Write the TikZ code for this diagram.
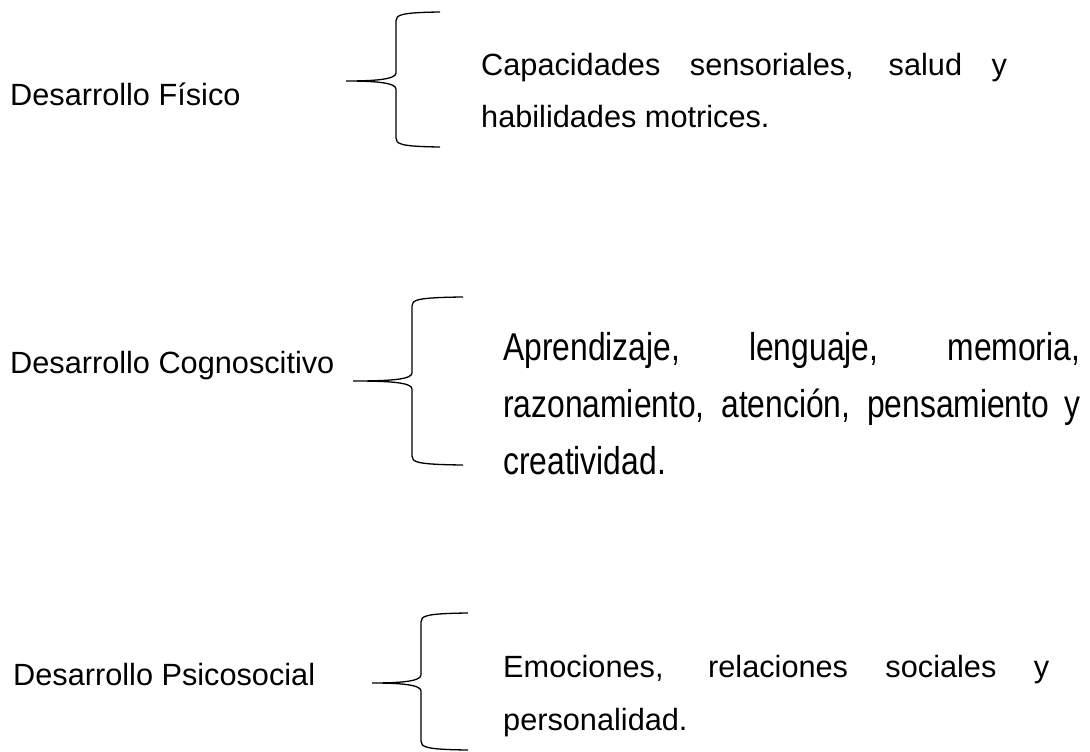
\documentclass[tikz,border=0pt]{standalone}
\usepackage{fontspec}
\setmainfont{Liberation Sans}
\newfontfamily\narrowfont{Liberation Sans}[FakeStretch=0.82]
\tikzset{
  lbl/.style={anchor=base west, inner sep=0pt, font=\fontsize{30.7}{53}\selectfont},
  para/.style={anchor=base west, inner sep=0pt},
  bracel/.style={line width=1.3pt, black}
}
\newcommand{\mybrace}[6]{% tipx tipy vx top bot endx
  \draw[bracel] (#6,#4) .. controls (#3+4,#4+0.5) and (#3,#4+3) .. (#3,#4+9)
     -- (#3,#2-8) .. controls (#3,#2-1.5) and (#3-22,#2) .. (#1,#2)
     .. controls (#3-22,#2) and (#3,#2+1.5) .. (#3,#2+8)
     -- (#3,#5-9) .. controls (#3,#5-3) and (#3+4,#5-0.5) .. (#6,#5);
}
\begin{document}
\begin{tikzpicture}[x=1pt,y=-1pt]
\useasboundingbox (0,0) rectangle (1090,752);
\fill[white] (0,0) rectangle (1090,752);

\node[lbl] (fis) at (10,105) {Desarrollo Físico};
\node[lbl] (cog) at (10,373) {Desarrollo Cognoscitivo};
\node[lbl] (psi) at (13,685) {Desarrollo Psicosocial};

\mybrace{346}{81}{396}{12}{147}{440}
\mybrace{353}{381}{412}{297}{465}{463}
\mybrace{372}{683}{421}{613}{750}{468}

\node[para] (tfis) at (481,75) {\parbox[t]{526pt}{\fontsize{30.7}{53}\selectfont\parindent=0pt
Capacidades sensoriales, salud y\linebreak habilidades motrices.}};
\node[para] (tcog) at (503,360) {\parbox[t]{577pt}{\narrowfont\fontsize{38.8}{57}\selectfont\parindent=0pt
Aprendizaje, lenguaje, memoria,\linebreak razonamiento, atención, pensamiento y\linebreak creatividad.}};
\node[para] (tpsi) at (503,677) {\parbox[t]{546pt}{\fontsize{30.7}{53}\selectfont\parindent=0pt
Emociones, relaciones sociales y\linebreak personalidad.}};
\end{tikzpicture}
\end{document}
